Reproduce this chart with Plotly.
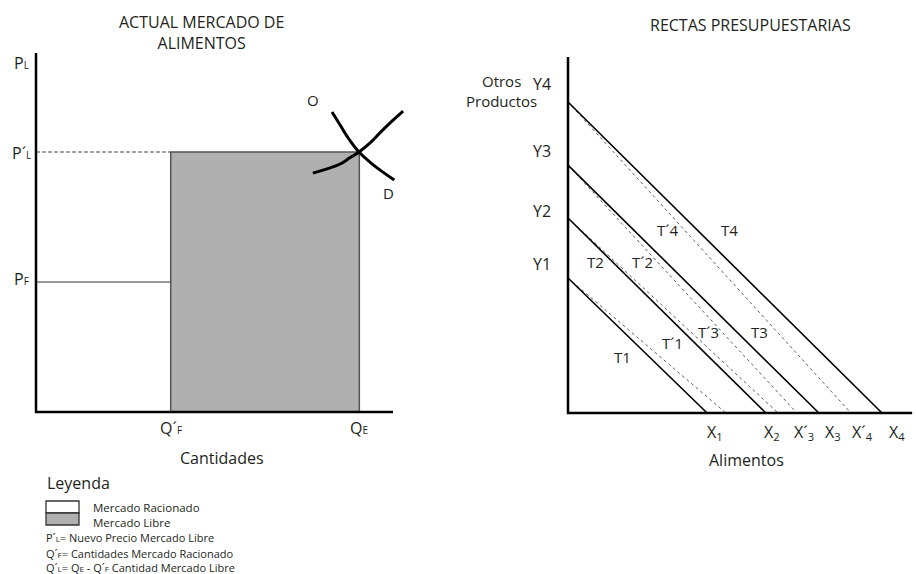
import plotly.graph_objects as go

W, H = 916, 574
FONT = "Open Sans"
INK = "#231f20"

# ---------------- data: left chart (actual food market) ----------------
Q_F = 4.0          # Q'F  rationed quantity
Q_E = 9.6          # QE   equilibrium quantity
P_F = 4.0          # PF   fixed price
P_L2 = 8.0         # P'L  new free-market price
left_axis_end = [10.6, 11.05]   # x, y extent of the drawn axes
curve_d_x = [8.79, 9.03, 9.29, 9.59, 9.95, 10.30, 10.64]
curve_d_y = [9.23, 8.83, 8.40, 8.00, 7.66, 7.38, 7.14]
curve_s_x = [8.22, 8.64, 9.03, 9.32, 9.59, 9.92, 10.24, 10.57, 10.90]
curve_s_y = [7.35, 7.48, 7.63, 7.82, 8.00, 8.28, 8.62, 8.95, 9.26]

# ---------------- data: right chart (budget lines) ----------------
y_intercepts = [4.34, 6.27, 7.97, 10.0]      # Y1..Y4
x_intercepts = [4.43, 6.30, 7.99, 10.0]      # X1..X4   (solid lines T1..T4)
x_intercepts_new = [5.03, 6.69, 7.29, 9.01]  # X'1..X'4 (dashed lines T'1..T'4)
right_axis_end = [10.96, 11.45]
y_tick_text = ["Y1", "Y2", "Y3", "Y4"]
x_tick_text = ["X<sub>1</sub>", "X<sub>2</sub>", "X´<sub>3</sub>", "X<sub>3</sub>", "X´<sub>4</sub>", "X<sub>4</sub>"]
t_labels = ["T1", "T´1", "T2", "T´2", "T´3", "T3", "T´4", "T4"]

# ---------------- layout geometry (positions / styles) ----------------
L_ORIG, L_SCALE = (36, 412), (33.68, 32.5)
L_XR, L_YR = [-0.3, 11.3], [-0.4, 11.4]
R_ORIG, R_SCALE = (568, 413), (31.4, 31.1)
R_XR, R_YR = [-0.3, 11.0], [-0.4, 11.7]


def xdom(orig, scale, rng):
    return [(orig[0] + rng[0] * scale[0]) / W, (orig[0] + rng[1] * scale[0]) / W]


def ydom(orig, scale, rng):
    return [1 - (orig[1] - rng[0] * scale[1]) / H, 1 - (orig[1] - rng[1] * scale[1]) / H]


def px(x):
    return x / W


def py(y):
    return 1 - y / H


fig = go.Figure()

# ---- left chart ----
fig.add_trace(go.Scatter(x=[Q_F, Q_E, Q_E, Q_F, Q_F], y=[0, 0, P_L2, P_L2, 0],
                         mode="lines", fill="toself", fillcolor="#b0b0b0",
                         line=dict(color="#555555", width=1.5), xaxis="x", yaxis="y"))
fig.add_trace(go.Scatter(x=[0, Q_F], y=[P_F, P_F], mode="lines",
                         line=dict(color="#333333", width=1.2), xaxis="x", yaxis="y"))
fig.add_trace(go.Scatter(x=[0, Q_F], y=[P_L2, P_L2], mode="lines",
                         line=dict(color="#444444", width=1, dash="4px,2px"), xaxis="x", yaxis="y"))
fig.add_trace(go.Scatter(x=curve_d_x, y=curve_d_y, mode="lines", line_shape="spline",
                         line=dict(color="black", width=3, smoothing=1.3), xaxis="x", yaxis="y"))
fig.add_trace(go.Scatter(x=curve_s_x, y=curve_s_y, mode="lines", line_shape="spline",
                         line=dict(color="black", width=3, smoothing=1.3), xaxis="x", yaxis="y"))
fig.add_trace(go.Scatter(x=[0, 0, left_axis_end[0]], y=[left_axis_end[1], 0, 0], mode="lines",
                         line=dict(color="black", width=2.5), xaxis="x", yaxis="y"))

# ---- right chart ----
for xi, yi in zip(x_intercepts_new, y_intercepts):
    fig.add_trace(go.Scatter(x=[0, xi], y=[yi, 0], mode="lines",
                             line=dict(color="#5f5f5f", width=1, dash="3px,3px"),
                             xaxis="x2", yaxis="y2"))
for xi, yi in zip(x_intercepts, y_intercepts):
    fig.add_trace(go.Scatter(x=[0, xi], y=[yi, 0], mode="lines",
                             line=dict(color="black", width=1.6), xaxis="x2", yaxis="y2"))
fig.add_trace(go.Scatter(x=[0, 0, right_axis_end[0]], y=[right_axis_end[1], 0, 0], mode="lines",
                         line=dict(color="black", width=2.5), xaxis="x2", yaxis="y2"))

ann = []


def A(text, x, y, xref="paper", yref="paper", size=16, xanchor="center", yanchor="middle",
      xshift=0, yshift=0, color=INK, align="center"):
    ann.append(dict(text=text, x=x, y=y, xref=xref, yref=yref, showarrow=False,
                    font=dict(family=FONT, size=size, color=color), xanchor=xanchor,
                    yanchor=yanchor, xshift=xshift, yshift=yshift, align=align))


S = "<span style='font-size:10px'>%s</span>"
# left chart texts
A("ACTUAL MERCADO DE<br>ALIMENTOS", px(201), py(33), size=16)
A("P" + S % "L", 0, left_axis_end[1], "x", "y", xshift=-14, yshift=-10)
A("P´" + S % "L", 0, P_L2, "x", "y", xshift=-14, yshift=-1)
A("P" + S % "F", 0, P_F, "x", "y", xshift=-14, yshift=3)
A("Q´" + S % "F", Q_F, 0, "x", "y", yshift=-16)
A("Q" + S % "E", Q_E, 0, "x", "y", yshift=-16)
A("O", curve_s_x[0], curve_d_y[0], "x", "y", size=15, yshift=12)
A("D", curve_d_x[-1], curve_d_y[-1], "x", "y", size=15, xshift=-6, yshift=-13)
A("Cantidades", px(222), py(458), size=16)
A("Leyenda", px(45), py(483), size=16, xanchor="left")
A("Mercado Racionado", px(91), py(507), size=11.5, xanchor="left")
A("Mercado Libre", px(91), py(522), size=11.5, xanchor="left")
s = "<span style='font-size:8px'>%s</span>"
A("P´" + s % "L" + "= Nuevo Precio Mercado Libre", px(44), py(537), size=11, xanchor="left")
A("Q´" + s % "F" + "= Cantidades Mercado Racionado", px(44), py(553), size=11, xanchor="left")
A("Q´" + s % "L" + "= Q" + s % "E" + " - Q´" + s % "F" + " Cantidad Mercado Libre",
  px(44), py(567), size=11, xanchor="left")

# right chart texts
A("RECTAS PRESUPUESTARIAS", px(750), py(25), size=16)
A("Otros<br>Productos", px(501), py(91), size=15)
y_label_shift = [14, 7, 14, 18]
for t, yi, sh in zip(y_tick_text, y_intercepts, y_label_shift):
    A(t, 0, yi, "x2", "y2", xshift=-26, yshift=sh)
x_tick_vals = [x_intercepts[0], x_intercepts[1], x_intercepts_new[2], x_intercepts[2],
               x_intercepts_new[3], x_intercepts[3]]
x_label_shift = [-2, -4, -5, 4, -1, 5]
for t, xi, sh in zip(x_tick_text, x_tick_vals, x_label_shift):
    A(t, xi, 0, "x2", "y2", xanchor="left", xshift=sh, yshift=-19)
A("Alimentos", px(746), py(460), size=16)
t_label_pos = [(1.72, 1.80), (3.34, 2.25), (0.86, 4.86), (2.36, 4.86),
               (4.46, 2.60), (6.11, 2.60), (3.18, 5.88), (5.13, 5.88)]
for t, (tx, ty) in zip(t_labels, t_label_pos):
    A(t, tx, ty, "x2", "y2", size=15)

shapes = [
    dict(type="rect", xref="paper", yref="paper", x0=px(46), x1=px(79), y0=py(513), y1=py(501),
         fillcolor="white", line=dict(color="#333333", width=1.3)),
    dict(type="rect", xref="paper", yref="paper", x0=px(46), x1=px(79), y0=py(525), y1=py(513),
         fillcolor="#b0b0b0", line=dict(color="#333333", width=1.3)),
]

ax = dict(visible=False, showgrid=False, zeroline=False, fixedrange=True)
fig.update_layout(
    width=W, height=H, margin=dict(l=0, r=0, t=0, b=0),
    paper_bgcolor="white", plot_bgcolor="rgba(0,0,0,0)", showlegend=False, hovermode=False,
    xaxis=dict(ax, domain=xdom(L_ORIG, L_SCALE, L_XR), range=L_XR),
    yaxis=dict(ax, domain=ydom(L_ORIG, L_SCALE, L_YR), range=L_YR),
    xaxis2=dict(ax, domain=xdom(R_ORIG, R_SCALE, R_XR), range=R_XR, anchor="y2"),
    yaxis2=dict(ax, domain=ydom(R_ORIG, R_SCALE, R_YR), range=R_YR, anchor="x2"),
    annotations=ann, shapes=shapes,
)

fig.write_html("out.html", config={"displayModeBar": False, "staticPlot": True},
               post_script="document.body.style.margin='0px';document.body.style.overflow='hidden';")
